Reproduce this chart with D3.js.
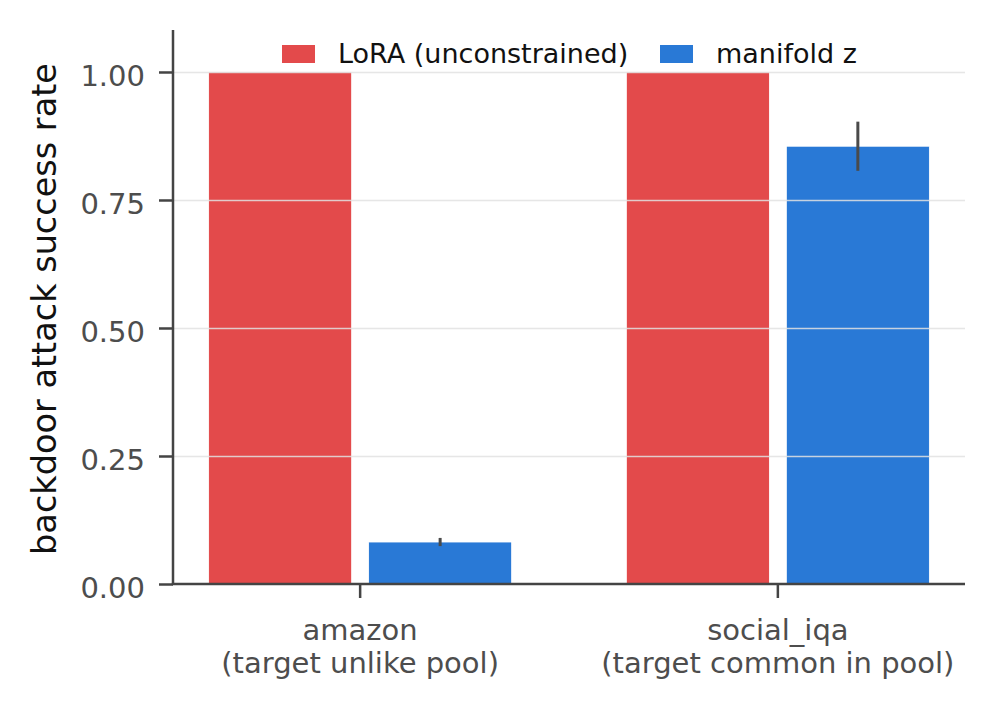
<!DOCTYPE html>
<html>
<head>
<meta charset="utf-8">
<script src="https://cdn.jsdelivr.net/npm/d3@7"></script>
<style>
	html, body { margin: 0; padding: 0; background: #fff; }
	svg { display: block; font-family: 'DejaVu Sans', sans-serif; }
</style>
</head>
<body>
<div id="chart"></div>
<script>
// DATA
const categories = ['amazon', 'social_iqa'];
const categoryNotes = ['(target unlike pool)', '(target common in pool)'];
const seriesNames = ['LoRA (unconstrained)', 'manifold z'];
const loraValues = [1.0, 1.0];
const manifoldValues = [0.082, 0.855];
const manifoldErrors = [0.008, 0.048];
const yTickValues = [0, 0.25, 0.5, 0.75, 1.0];
const colours = ['#e34a4b', '#2979d6'];

// LAYOUT
const width = 995, height = 714;
const margin = { top: 30, right: 30, bottom: 130, left: 173 };

const svg = d3.select('#chart')
	.append('svg')
	.attr('width', width)
	.attr('height', height);

const xScale = d3.scaleBand()
	.domain(categories)
	.range([margin.left, width - margin.right])
	.paddingInner(0.234)
	.paddingOuter(0.065);

const xInner = d3.scaleBand()
	.domain(seriesNames)
	.range([0, xScale.bandwidth()])
	.paddingInner(0.106)
	.paddingOuter(0.053);

const yScale = d3.scaleLinear()
	.domain([0, 1.082])
	.range([height - margin.bottom, margin.top]);

const rows = categories.map((c, i) => ({
	category: c,
	values: [
		{ series: seriesNames[0], value: loraValues[i], err: null, colour: colours[0] },
		{ series: seriesNames[1], value: manifoldValues[i], err: manifoldErrors[i], colour: colours[1] }
	]
}));

// bars
const groups = svg.append('g')
	.selectAll('g')
	.data(rows)
	.join('g')
	.attr('transform', d => `translate(${xScale(d.category)},0)`);

groups.selectAll('rect')
	.data(d => d.values)
	.join('rect')
	.attr('x', d => xInner(d.series))
	.attr('y', d => yScale(d.value))
	.attr('width', xInner.bandwidth())
	.attr('height', d => yScale(0) - yScale(d.value))
	.attr('fill', d => d.colour)
	.attr('stroke', '#fff')
	.attr('stroke-width', 0.8);

// gridlines (drawn over the bars, faint)
svg.append('g')
	.attr('class', 'gridline')
	.attr('transform', `translate(${margin.left},0)`)
	.call(d3.axisLeft(yScale)
		.tickValues(yTickValues.slice(1))
		.tickSize(-(width - margin.right - margin.left))
		.tickFormat('')
	)
	.call(g => g.select('.domain').remove())
	.call(g => g.selectAll('line')
		.attr('stroke', '#e2e2e2')
		.attr('stroke-width', 1.6)
		.attr('opacity', 0.85));

// error bars
groups.selectAll('line.err')
	.data(d => d.values.filter(v => v.err !== null))
	.join('line')
	.attr('class', 'err')
	.attr('x1', d => xInner(d.series) + xInner.bandwidth() / 2)
	.attr('x2', d => xInner(d.series) + xInner.bandwidth() / 2)
	.attr('y1', d => yScale(d.value - d.err))
	.attr('y2', d => yScale(d.value + d.err))
	.attr('stroke', '#4a4a4a')
	.attr('stroke-width', 3);

// y axis
svg.append('g')
	.attr('transform', `translate(${margin.left},0)`)
	.call(d3.axisLeft(yScale)
		.tickValues(yTickValues)
		.tickSize(14)
		.tickPadding(14)
		.tickFormat(d3.format('.2f'))
	)
	.call(g => g.select('.domain').remove())
	.call(g => g.selectAll('line').attr('stroke', '#444').attr('stroke-width', 2.5))
	.call(g => g.selectAll('text')
		.attr('fill', '#4d4d4d')
		.attr('font-size', 29)
		.attr('font-family', 'DejaVu Sans')
		.attr('dy', '0.46em'));

// x axis
svg.append('g')
	.attr('transform', `translate(0,${height - margin.bottom})`)
	.call(d3.axisBottom(xScale)
		.tickSize(14)
		.tickFormat('')
	)
	.call(g => g.select('.domain').remove())
	.call(g => g.selectAll('line').attr('stroke', '#444').attr('stroke-width', 2.5));

const xLabels = svg.append('g')
	.selectAll('text')
	.data(categories)
	.join('text')
	.attr('x', d => xScale(d) + xScale.bandwidth() / 2)
	.attr('y', 640)
	.attr('text-anchor', 'middle')
	.attr('fill', '#4d4d4d')
	.attr('font-size', 29);
xLabels.append('tspan')
	.attr('x', d => xScale(d) + xScale.bandwidth() / 2)
	.text(d => d);
xLabels.append('tspan')
	.attr('x', d => xScale(d) + xScale.bandwidth() / 2)
	.attr('dy', 33)
	.text((d, i) => categoryNotes[i]);

// spines
svg.append('line')
	.attr('x1', margin.left).attr('x2', margin.left)
	.attr('y1', margin.top).attr('y2', yScale(0))
	.attr('stroke', '#444').attr('stroke-width', 2.5);
svg.append('line')
	.attr('x1', margin.left - 1.25).attr('x2', width - margin.right)
	.attr('y1', yScale(0)).attr('y2', yScale(0))
	.attr('stroke', '#444').attr('stroke-width', 2.5);

// y label
svg.append('text')
	.attr('transform', `translate(56,${(margin.top + yScale(0)) / 2 + 2}) rotate(-90)`)
	.attr('text-anchor', 'middle')
	.attr('fill', '#111')
	.attr('font-size', 33.5)
	.text('backdoor attack success rate');

// legend
const legendX = [282, 660];
const legend = svg.append('g')
	.selectAll('g')
	.data(seriesNames)
	.join('g')
	.attr('transform', (d, i) => `translate(${legendX[i]},45)`);
legend.append('rect')
	.attr('width', 33)
	.attr('height', 18)
	.attr('fill', (d, i) => colours[i]);
legend.append('text')
	.attr('x', 56)
	.attr('y', 18)
	.attr('fill', '#111')
	.attr('font-size', 27)
	.text(d => d);
</script>
</body>
</html>
